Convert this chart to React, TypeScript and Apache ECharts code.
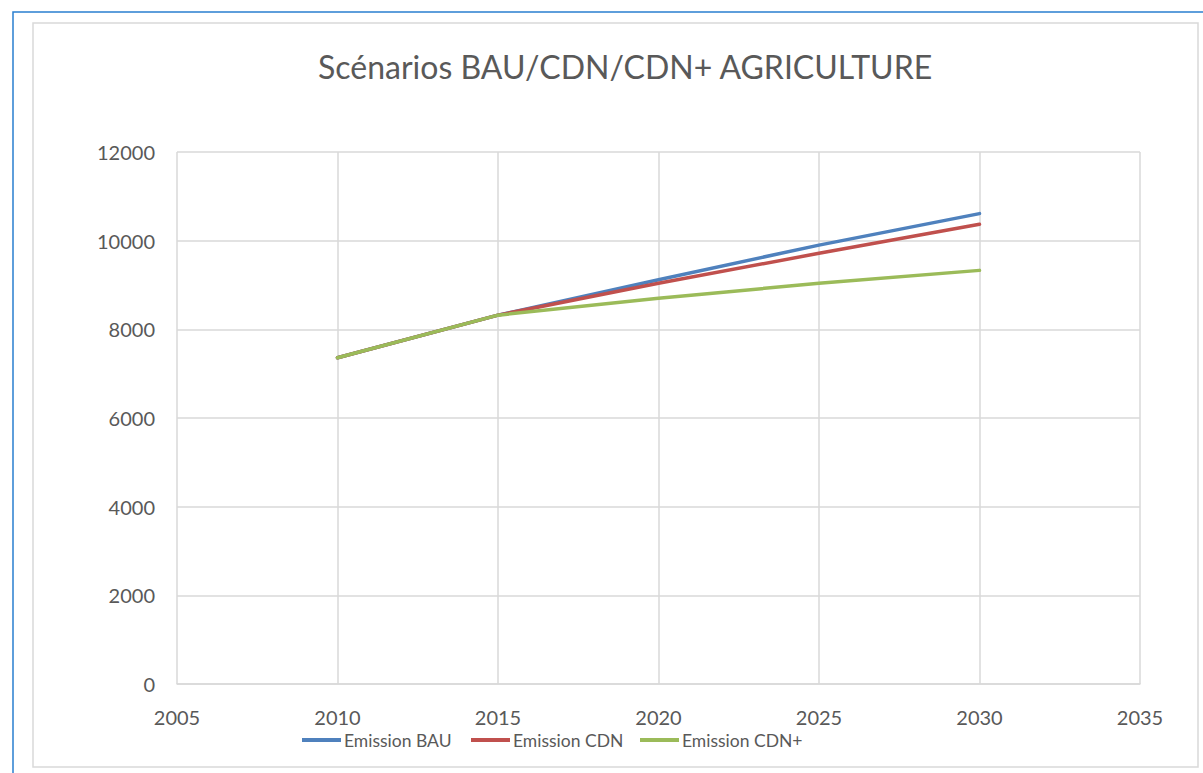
import React, { useEffect, useRef } from "react";
import * as echarts from "echarts";

const years = [2010, 2015, 2020, 2025, 2030];
const bau = [7360, 8320, 9120, 9900, 10610];
const cdn = [7360, 8320, 9040, 9715, 10370];
const cdnPlus = [7360, 8320, 8700, 9040, 9330];
const seriesNames = ["Emission BAU", "Emission CDN", "Emission CDN+"];
const colors = ["#4f81bd", "#c0504d", "#9bbb59"];

export default function App() {
  const ref = useRef<HTMLDivElement>(null);
  useEffect(() => {
    document.body.style.margin = "0";
    const chart = echarts.init(ref.current!, null, { renderer: "svg" });
    const font = "Lato, 'Open Sans', sans-serif";
    const mk = (name: string, vals: number[], color: string) => ({
      name,
      type: "line",
      data: years.map((y, i) => [y, vals[i]]),
      showSymbol: false,
      symbol: "none",
      lineStyle: { color, width: 3.5, cap: "round" },
      itemStyle: { color },
    });
    const legendLefts = [302, 471, 640];
    chart.setOption({
      animation: false,
      backgroundColor: "#ffffff",
      textStyle: { fontFamily: font },
      title: {
        text: "Scénarios BAU/CDN/CDN+ AGRICULTURE",
        left: 313,
        top: 45,
        textStyle: { fontFamily: font, fontSize: 32, fontWeight: "normal", color: "#595959" },
      },
      graphic: [
        { type: "rect", shape: { x: 13, y: 12, width: 1400, height: 900 }, style: { fill: "none", stroke: "#2a7fd0", lineWidth: 1.5 }, silent: true },
        { type: "rect", shape: { x: 33, y: 23, width: 1165, height: 744 }, style: { fill: "none", stroke: "#d9d9d9", lineWidth: 1.5 }, silent: true },
      ],
      legend: seriesNames.map((n, i) => ({
        left: legendLefts[i] - 5,
        top: 726,
        itemWidth: 39,
        itemHeight: 4,
        icon: "rect",
        data: [n],
        textStyle: { fontFamily: font, fontSize: 17.5, color: "#595959", padding: [0, 0, 0, -2] },
      })),
      grid: { left: 177, right: 63, top: 152, bottom: 89 },
      xAxis: {
        type: "value",
        min: 2005,
        max: 2035,
        interval: 5,
        axisLine: { show: true, lineStyle: { color: "#d9d9d9", width: 1.5 } },
        axisTick: { show: false },
        splitLine: { show: true, lineStyle: { color: "#d9d9d9", width: 1.5 } },
        axisLabel: { fontFamily: font, fontSize: 20, color: "#595959", margin: 23, formatter: (v: number) => String(v) },
      },
      yAxis: {
        type: "value",
        min: 0,
        max: 12000,
        interval: 2000,
        axisLine: { show: false },
        axisTick: { show: false },
        splitLine: { show: true, lineStyle: { color: "#d9d9d9", width: 1.5 } },
        axisLabel: { fontFamily: font, fontSize: 20, color: "#595959", margin: 22, formatter: (v: number) => String(v) },
      },
      series: [mk(seriesNames[0], bau, colors[0]), mk(seriesNames[1], cdn, colors[1]), mk(seriesNames[2], cdnPlus, colors[2])],
    });
    return () => chart.dispose();
  }, []);
  return <div ref={ref} style={{ width: 1203, height: 773 }} />;
}
